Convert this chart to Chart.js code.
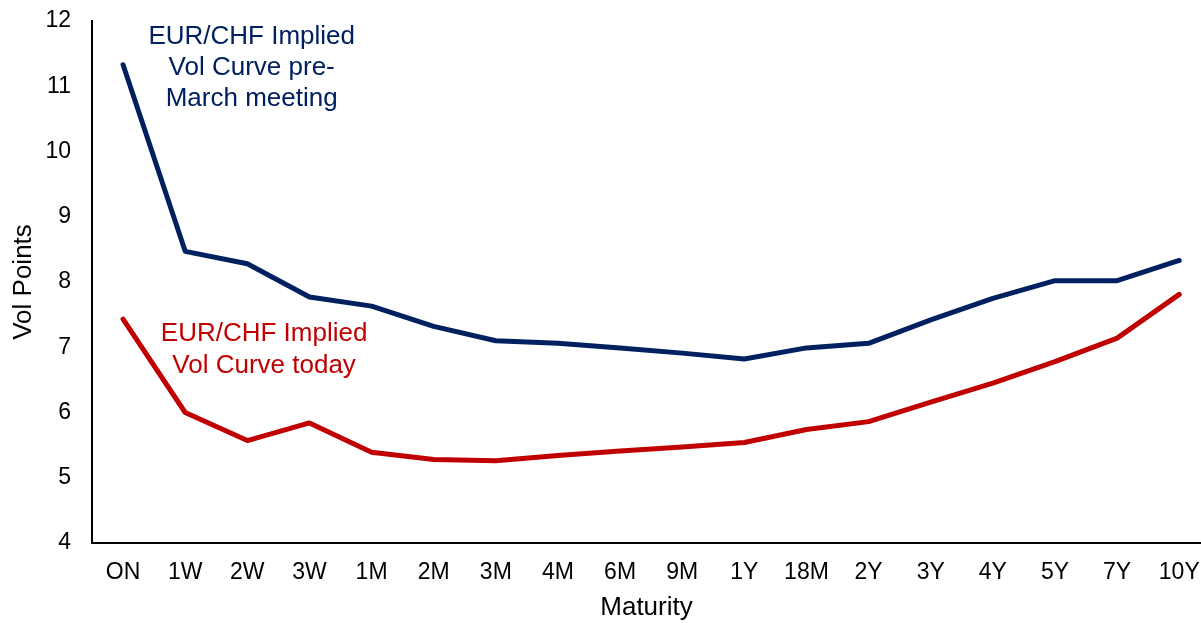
<!DOCTYPE html>
<html>
<head>
<meta charset="utf-8">
<script src="https://cdn.jsdelivr.net/npm/chart.js@4.4.1/dist/chart.umd.min.js"></script>
<style>
  html, body { margin: 0; padding: 0; background: #ffffff; overflow: hidden; }
  #wrap { position: relative; width: 1201px; height: 623px; }
</style>
</head>
<body>
<div id="wrap"><canvas id="chart" width="1201" height="623"></canvas></div>
<script>
// Maturity buckets along the curve
const maturities = ['ON', '1W', '2W', '3W', '1M', '2M', '3M', '4M', '6M', '9M', '1Y', '18M', '2Y', '3Y', '4Y', '5Y', '7Y', '10Y'];

// Implied vol (vol points) per maturity
const volPreMarch = [11.33, 8.47, 8.28, 7.77, 7.63, 7.32, 7.10, 7.06, 6.99, 6.91, 6.82, 6.99, 7.06, 7.42, 7.75, 8.02, 8.02, 8.33];
const volToday    = [7.43, 6.00, 5.57, 5.84, 5.39, 5.28, 5.26, 5.34, 5.41, 5.47, 5.54, 5.74, 5.86, 6.16, 6.45, 6.78, 7.14, 7.81];

// Y-axis tick values
const yTicks = [4, 5, 6, 7, 8, 9, 10, 11, 12];

const NAVY = '#002060';
const RED = '#C00000';
const FONT = "'Liberation Sans', Arial, sans-serif";

const toPoints = arr => arr.map((v, i) => ({ x: i, y: v }));

// Curve captions placed in data space next to each line
const captionPlugin = {
  id: 'captions',
  afterDatasetsDraw(chart) {
    const { ctx, scales: { x, y } } = chart;
    ctx.save();
    ctx.font = '26px ' + FONT;
    ctx.textAlign = 'center';
    ctx.textBaseline = 'middle';
    const cx1 = x.getPixelForValue(2.07);
    ctx.fillStyle = NAVY;
    ['EUR/CHF Implied', 'Vol Curve pre-', 'March meeting'].forEach((t, i) => {
      ctx.fillText(t, cx1, y.getPixelForValue(11.75) + i * 31);
    });
    const cx2 = x.getPixelForValue(2.27);
    ctx.fillStyle = RED;
    ['EUR/CHF Implied', 'Vol Curve today'].forEach((t, i) => {
      ctx.fillText(t, cx2, y.getPixelForValue(7.2) + i * 31.5);
    });
    ctx.restore();
  }
};

new Chart(document.getElementById('chart'), {
  type: 'line',
  data: {
    datasets: [
      {
        label: 'EUR/CHF Implied Vol Curve pre-March meeting',
        data: toPoints(volPreMarch),
        borderColor: NAVY,
        backgroundColor: NAVY,
        borderWidth: 5,
        pointRadius: 0,
        tension: 0,
        borderCapStyle: 'round',
        borderJoinStyle: 'round'
      },
      {
        label: 'EUR/CHF Implied Vol Curve today',
        data: toPoints(volToday),
        borderColor: RED,
        backgroundColor: RED,
        borderWidth: 5,
        pointRadius: 0,
        tension: 0,
        borderCapStyle: 'round',
        borderJoinStyle: 'round'
      }
    ]
  },
  options: {
    responsive: false,
    animation: false,
    layout: { padding: { top: 21, right: 0, left: 0, bottom: 0 } },
    plugins: {
      legend: { display: false },
      tooltip: { enabled: false }
    },
    scales: {
      x: {
        type: 'linear',
        min: -0.5,
        max: 17.35,
        grid: { display: false, drawTicks: false },
        border: { display: true, color: '#000000', width: 2 },
        afterBuildTicks(scale) {
          scale.ticks = maturities.map((_, i) => ({ value: i }));
        },
        ticks: {
          autoSkip: false,
          maxRotation: 0,
          padding: 16,
          color: '#000000',
          font: { family: FONT, size: 23 },
          callback: v => maturities[v]
        },
        title: {
          display: true,
          text: 'Maturity',
          color: '#000000',
          font: { family: FONT, size: 26 },
          padding: { top: 1, bottom: 0 }
        },
        afterFit(scale) {
          scale.height = 80;
          scale.paddingLeft = 0;
          scale.paddingRight = 0;
        }
      },
      y: {
        min: 4,
        max: 12,
        grid: { display: false, drawTicks: false },
        border: { display: true, color: '#000000', width: 2 },
        afterBuildTicks(scale) {
          scale.ticks = yTicks.map(v => ({ value: v }));
        },
        ticks: {
          padding: 21,
          color: '#000000',
          font: { family: FONT, size: 23 }
        },
        title: {
          display: true,
          text: 'Vol Points',
          color: '#000000',
          font: { family: FONT, size: 26 },
          padding: { top: 8, bottom: 0 }
        },
        afterFit(scale) {
          scale.width = 92;
          scale.paddingTop = 0;
          scale.paddingBottom = 0;
        }
      }
    }
  },
  plugins: [captionPlugin]
});
</script>
</body>
</html>
